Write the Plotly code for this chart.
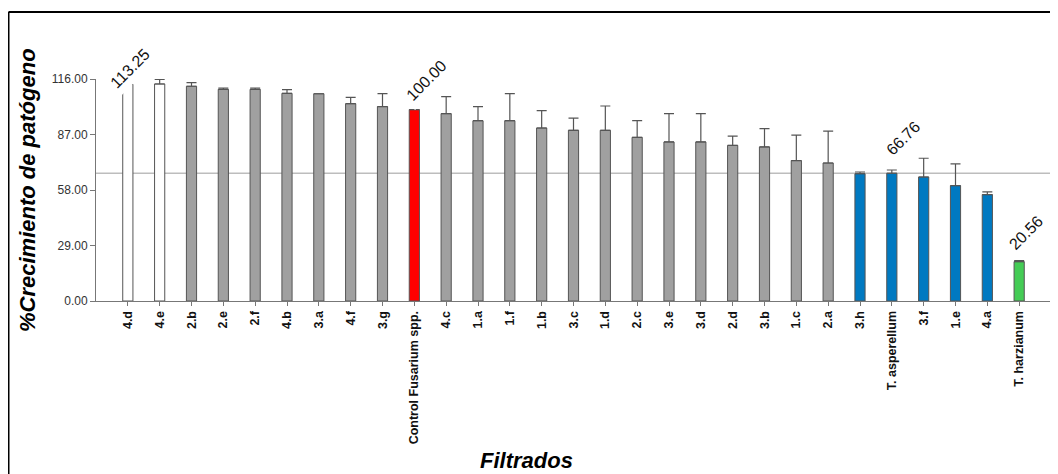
import plotly.graph_objects as go

# ---- data ----
categories = ["4.d", "4.e", "2.b", "2.e", "2.f", "4.b", "3.a", "4.f", "3.g",
              "Control Fusarium spp.", "4.c", "1.a", "1.f", "1.b", "3.c", "1.d",
              "2.c", "3.e", "3.d", "2.d", "3.b", "1.c", "2.a", "3.h",
              "T. asperellum", "3.f", "1.e", "4.a", "T. harzianum"]
growth = [113.25, 113.4, 112.2, 110.6, 110.6, 108.5, 108.3, 103.1, 101.6,
          100.00, 97.9, 94.2, 94.2, 90.4, 89.2, 89.2,
          85.5, 83.1, 83.1, 81.3, 80.5, 73.4, 72.1, 66.5,
          66.76, 64.8, 60.3, 55.6, 20.56]
error_up = [0.0, 2.4, 1.9, 0.7, 0.7, 1.9, 0.0, 3.3, 6.8,
            0.0, 8.9, 7.4, 14.2, 9.1, 6.4, 12.7,
            8.7, 14.8, 14.8, 4.9, 9.6, 13.3, 16.7, 0.9,
            1.7, 9.8, 11.3, 1.4, 0.5]
groups = ["sup", "sup", "gris", "gris", "gris", "gris", "gris", "gris", "gris",
          "control", "gris", "gris", "gris", "gris", "gris", "gris",
          "gris", "gris", "gris", "gris", "gris", "gris", "gris", "azul",
          "azul", "azul", "azul", "azul", "verde"]
reference_value = 66.76
labelled = ["4.d", "Control Fusarium spp.", "T. asperellum", "T. harzianum"]
label_text = ["113.25", "100.00", "66.76", "20.56"]
y_ticks = [0, 29, 58, 87, 116]

# ---- style ----
group_colors = {"sup": "#ffffff", "gris": "#a0a0a0", "control": "#ff0000",
                "azul": "#0079c1", "verde": "#44cc55"}
label_shifts = [(2, 16), (12, 29), (11, 35), (7, 29)]
FONT = "Liberation Sans, Arial, sans-serif"

OFF = 8  # page body offset
W, H = 1050, 466
ML, MT = 96 - OFF, 79 - OFF
PW, PH = 955, 222
MR, MB = W - ML - PW, H - MT - PH


def px_x(px):
    return (px - OFF - ML) / PW


def px_y(py):
    return (MT + PH - (py - OFF)) / PH


fig = go.Figure()
fig.add_trace(go.Bar(
    x=categories, y=growth, width=0.32,
    marker=dict(color=[group_colors[g] for g in groups],
                line=dict(color="#555555", width=1)),
    error_y=dict(type="data", symmetric=False, array=error_up,
                 arrayminus=[0] * len(error_up),
                 color="#555555", thickness=1.2, width=5),
    showlegend=False,
))

annotations = []
for cat, txt, (dx, dy) in zip(labelled, label_text, label_shifts):
    yv = growth[categories.index(cat)]
    annotations.append(dict(
        x=cat, y=yv, xref="x", yref="y", text=txt, showarrow=False,
        textangle=-45, xshift=dx, yshift=dy, bgcolor="white", borderpad=4,
        font=dict(family=FONT, size=16, color="#111111")))

annotations.append(dict(
    text="<b><i>%Crecimiento de patógeno</i></b>", xref="paper", yref="paper",
    x=px_x(27), y=px_y(190), textangle=-90, showarrow=False,
    xanchor="center", yanchor="middle",
    font=dict(family=FONT, size=22, color="#000000")))
annotations.append(dict(
    text="<b><i>Filtrados</i></b>", xref="paper", yref="paper",
    x=px_x(526), y=px_y(460), showarrow=False,
    xanchor="center", yanchor="middle",
    font=dict(family=FONT, size=22, color="#000000")))

shapes = [
    dict(type="line", xref="paper", yref="y", x0=0, x1=1,
         y0=reference_value, y1=reference_value,
         line=dict(color="#bdbdbd", width=1.5), layer="below"),
    dict(type="line", xref="paper", yref="paper", x0=px_x(8.5), x1=1.2,
         y0=px_y(12), y1=px_y(12), line=dict(color="#000000", width=2)),
    dict(type="line", xref="paper", yref="paper", x0=px_x(8.5), x1=px_x(8.5),
         y0=px_y(12), y1=-1.5, line=dict(color="#000000", width=2)),
    dict(type="line", xref="paper", yref="paper", x0=1, x1=1,
         y0=0, y1=px_y(297), line=dict(color="#777777", width=1)),
]

fig.update_layout(
    width=W, height=H,
    margin=dict(l=ML, r=MR, t=MT, b=MB, pad=0),
    paper_bgcolor="white", plot_bgcolor="white",
    annotations=annotations, shapes=shapes,
    xaxis=dict(range=[-1, 29], showline=True, linecolor="#777777", linewidth=1,
               ticks="outside", ticklen=4, tickcolor="#777777",
               tickangle=-90, showgrid=False, zeroline=False,
               tickfont=dict(family=FONT, size=12.5, color="#111111", weight="bold")),
    yaxis=dict(range=[0, 116], tickvals=y_ticks, tickformat=".2f",
               showline=True, linecolor="#777777", linewidth=1,
               ticks="outside", ticklen=5, tickcolor="#777777",
               showgrid=False, zeroline=False,
               tickfont=dict(family=FONT, size=12, color="#333333")),
)

fig.write_html("out.html")
